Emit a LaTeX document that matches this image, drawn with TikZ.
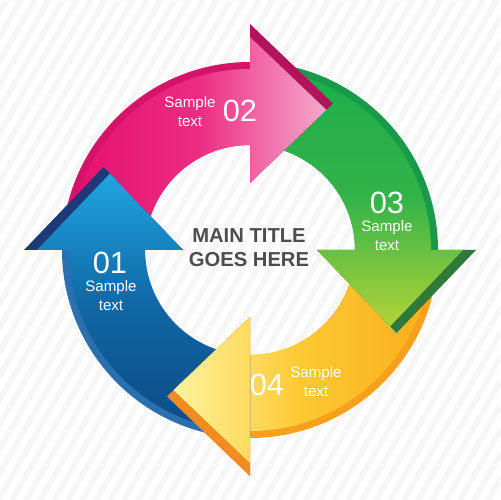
\documentclass[tikz,border=0pt]{standalone}
\usepackage{fontspec}
\setmainfont{Liberation Sans}
\usetikzlibrary{calc}

\definecolor{pinkA}{HTML}{E4106E}
\definecolor{pinkB}{HTML}{EC2C82}
\definecolor{pinkC}{HTML}{F6A9CD}
\definecolor{pinkrim}{HTML}{D6126A}
\definecolor{pinkside}{HTML}{B3125C}
\definecolor{greenA}{HTML}{1EAD4B}
\definecolor{greenB}{HTML}{33B349}
\definecolor{greenC}{HTML}{B3D336}
\definecolor{greenrim}{HTML}{19994A}
\definecolor{greenside}{HTML}{2F7A3B}
\definecolor{yellowA}{HTML}{FEF39E}
\definecolor{yellowB}{HTML}{FDC932}
\definecolor{yellowC}{HTML}{F9AE1A}
\definecolor{yellowrim}{HTML}{F6A01C}
\definecolor{yellowside}{HTML}{F28C20}
\definecolor{blueA}{HTML}{1FA6E0}
\definecolor{blueB}{HTML}{1068A6}
\definecolor{blueC}{HTML}{0C4A86}
\definecolor{bluerim}{HTML}{2A6FAE}
\definecolor{blueside}{HTML}{1C3A78}
\definecolor{titlegray}{HTML}{4D4D4F}

% ring pieces, #1 = angle of the head's base
\newcommand{\bodypath}[1]{(#1+90:188) arc[start angle=#1+90, end angle=#1, radius=188]
  -- (#1:105) arc[start angle=#1, end angle=#1+90, radius=105] -- cycle}
\newcommand{\headpath}[1]{(#1:226) -- ($(#1:146.5)+(#1-90:83)$) -- (#1:67) -- cycle}
\newcommand{\facepath}[1]{(#1+90:181) arc[start angle=#1+90, end angle=#1, radius=181]
  -- (#1:213) -- ($(#1:140.1)+(#1-90:76.4)$) -- (#1:67)
  -- (#1:105) arc[start angle=#1, end angle=#1+90, radius=105] -- cycle}

\tikzset{
  stripe/.style={draw=gray!7, line width=3},
  pinkface/.style={left color=pinkA, right color=pinkC, middle color=pinkB},
  greenface/.style={top color=greenA, bottom color=greenC, middle color=greenB},
  yellowface/.style={left color=yellowA, right color=yellowC, middle color=yellowB},
  blueface/.style={top color=blueA, bottom color=blueC, middle color=blueB},
  num/.style={text=white, inner sep=0, font=\fontsize{17.5}{18}\selectfont},
  lbl/.style={text=white, inner sep=0, align=center, font=\fontsize{8.6}{10.8}\selectfont},
  title/.style={text=titlegray, inner sep=0, align=center, font=\bfseries\fontsize{11.5}{13.7}\selectfont}
}

\begin{document}
\begin{tikzpicture}[x=0.02cm, y=0.02cm]
    \useasboundingbox (-250,-250) rectangle (250,250);
    \fill[white] (-250,-250) rectangle (250,250);
    \begin{scope}
        \clip (-250,-250) rectangle (250,250);
        \foreach \k in {-42,...,18}
            \draw[stripe] (\k*14,-250) -- ++(60:600);
    \end{scope}

%%   yellow, green, pink, blue -- then the yellow head again on top
    \fill[yellowrim] \bodypath{270};
    \fill[yellowside] \headpath{270};
    \shade[yellowface] \facepath{270};

    \fill[greenrim] \bodypath{0};
    \fill[greenside] \headpath{0};
    \shade[greenface] \facepath{0};

    \fill[pinkrim] \bodypath{90};
    \fill[pinkside] \headpath{90};
    \shade[pinkface] \facepath{90};

    \fill[bluerim] \bodypath{180};
    \fill[blueside] \headpath{180};
    \shade[blueface] \facepath{180};

    \begin{scope}
        \clip (-250,-250) rectangle (0,-20);
        \fill[yellowside] \headpath{270};
        \shade[yellowface] \facepath{270};
    \end{scope}

%%   kw   (name)   (x, y)   {text}
    \node[title] (title) at (-1, 2)     {MAIN TITLE\\GOES HERE};

    \node[num] (n01) at (-140, -13)     {01};
    \node[lbl] (t01) at (-139, -46)     {Sample\\text};
    \node[num] (n02) at (-10, 139)      {02};
    \node[lbl] (t02) at (-60, 138)      {Sample\\text};
    \node[num] (n03) at (137, 47)       {03};
    \node[lbl] (t03) at (137, 14)       {Sample\\text};
    \node[num] (n04) at (17, -135)      {04};
    \node[lbl] (t04) at (66, -132)      {Sample\\text};
\end{tikzpicture}
\end{document}
